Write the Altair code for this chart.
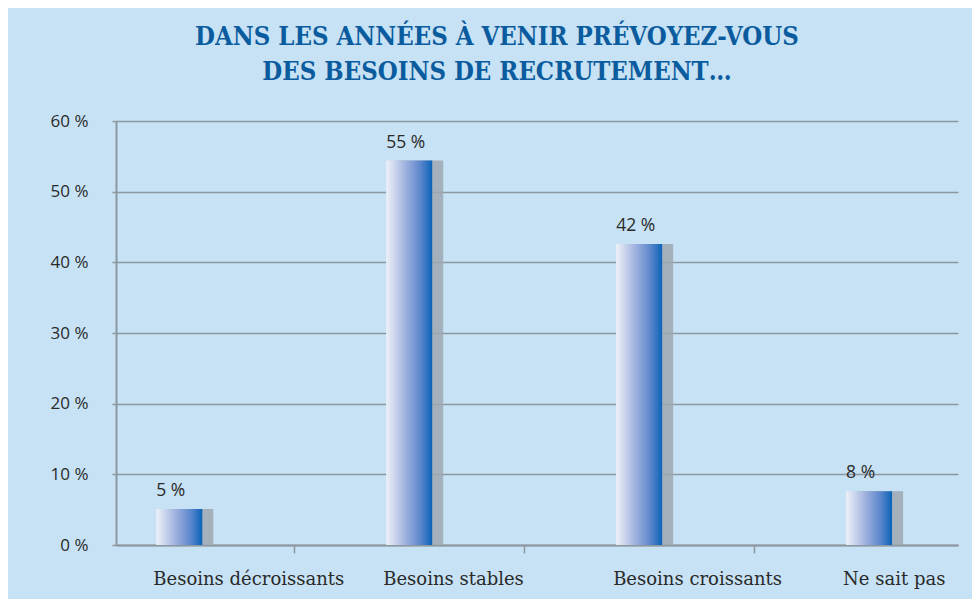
import altair as alt
import pandas as pd

categories = ["Besoins décroissants", "Besoins stables", "Besoins croissants", "Ne sait pas"]
values = [5.1, 54.4, 42.6, 7.6]
value_labels = ["5 %", "55 %", "42 %", "8 %"]
y_ticks = [0, 10, 20, 30, 40, 50, 60]
title_lines = ["DANS LES ANNÉES À VENIR PRÉVOYEZ-VOUS", "DES BESOINS DE RECRUTEMENT…"]

df = pd.DataFrame({
    "i": list(range(len(categories))),
    "cat": categories,
    "v": values,
    "lab": value_labels,
})

BG = "#c6e2f4"
GRID = "#8d979f"
TXT = "#2a2a2a"

xscale = alt.Scale(domain=[-0.2535, 3.365], nice=False, zero=False)
yscale = alt.Scale(domain=[0, 60], nice=False)

x_axis = alt.Axis(values=[0.5, 1.5, 2.5], labels=False, title=None, grid=False,
                  domainColor=GRID, domainWidth=2, tickColor=GRID, tickSize=8, tickWidth=1.5)
y_axis = alt.Axis(values=y_ticks, title=None, labelExpr="datum.value + ' %'",
                  labelFont="Open Sans", labelFontSize=17, labelColor=TXT, labelPadding=24,
                  grid=True, gridColor=GRID, gridWidth=1.5,
                  domainColor=GRID, domainWidth=2, tickColor=GRID, tickSize=4, tickWidth=1.5)

base = alt.Chart(df)

shadow = base.mark_bar(size=46, xOffset=11, color="#9ea8b1", opacity=0.85).encode(
    x=alt.X("i:Q", scale=xscale, axis=x_axis),
    y=alt.Y("v:Q", scale=yscale, axis=y_axis),
)

grad = alt.Gradient(
    gradient="linear", x1=0, x2=1, y1=0, y2=0,
    stops=[alt.GradientStop(color="#eef1f8", offset=0),
           alt.GradientStop(color="#a3b4df", offset=0.4),
           alt.GradientStop(color="#5b86cc", offset=0.75),
           alt.GradientStop(color="#0a63b8", offset=1)],
)
bars = base.mark_bar(size=46, color=grad).encode(
    x=alt.X("i:Q", scale=xscale),
    y=alt.Y("v:Q", scale=yscale),
)

vlabels = base.mark_text(align="left", baseline="alphabetic", dx=-23, dy=-13,
                         font="Open Sans", fontSize=17.5, color=TXT).encode(
    x=alt.X("i:Q", scale=xscale),
    y=alt.Y("v:Q", scale=yscale),
    text="lab:N",
)

clabels = base.mark_text(align="left", baseline="alphabetic", dx=-26, dy=40,
                         font="DejaVu Serif", fontSize=18, color=TXT).encode(
    x=alt.X("i:Q", scale=xscale),
    y=alt.datum(0, scale=yscale),
    text="cat:N",
)

chart = alt.layer(shadow, bars, vlabels, clabels).properties(
    width=842,
    height=424,
    autosize="none",
    padding={"left": 108, "top": 113, "right": 14, "bottom": 54},
    background=BG,
    title=alt.TitleParams(
        text=title_lines, font="DejaVu Serif Condensed, DejaVu Serif", fontSize=25.5,
        fontWeight="bold", color="#0b5c9e", anchor="middle", dx=-40, offset=27,
        lineHeight=35,
    ),
).configure_view(stroke=None)

chart.save("out.html", embed_options={"renderer": "svg", "actions": False})
